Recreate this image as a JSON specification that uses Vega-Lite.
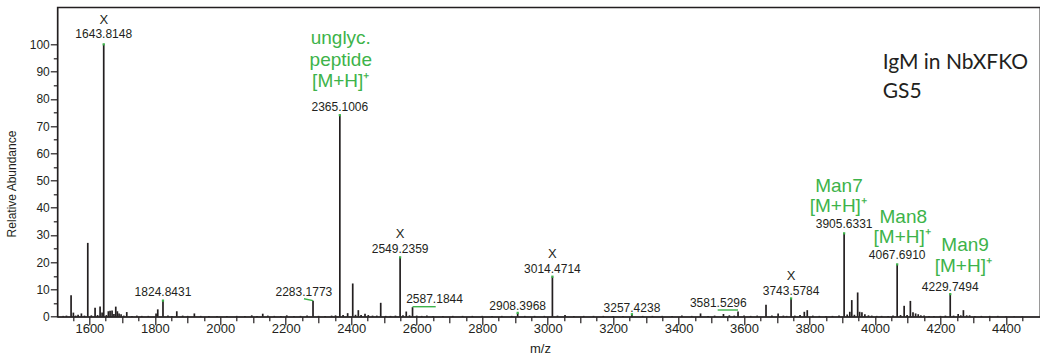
{
  "$schema": "https://vega.github.io/schema/vega-lite/v6.json",
  "width": 982.7,
  "height": 309.4,
  "autosize": {"type": "none"},
  "padding": {"left": 57.3, "top": 7.3, "right": 0, "bottom": 39.3},
  "background": "white",
  "view": {"stroke": "#231f20", "strokeWidth": 1.3},
  "config": {"axis": {"labelOverlap": false, "grid": false, "tickCount": 200}},
  "datasets": {
    "peaks": [
      {"mz":1520,"ab":0.3},{"mz":1530,"ab":0.4},{"mz":1544.1,"ab":7.9},{"mz":1551.1,"ab":1.5},{"mz":1558,"ab":0.4},{"mz":1565.5,"ab":0.7},{"mz":1575.6,"ab":1.2},{"mz":1585,"ab":0.4},{"mz":1595.1,"ab":27.1},{"mz":1606,"ab":0.5},{"mz":1617.4,"ab":3.3},{"mz":1625,"ab":0.6},{"mz":1632.7,"ab":3.7},{"mz":1638.8,"ab":1.5},{"mz":1643.8148,"ab":100},{"mz":1652,"ab":0.6},{"mz":1658,"ab":2.0},{"mz":1663.2,"ab":2.2},{"mz":1669.3,"ab":2.3},{"mz":1675,"ab":1.0},{"mz":1680.6,"ab":3.7},{"mz":1685.5,"ab":2.0},{"mz":1690.7,"ab":1.2},{"mz":1696.8,"ab":0.9},{"mz":1705,"ab":0.4},{"mz":1714.2,"ab":1.7},{"mz":1730,"ab":0.3},{"mz":1745,"ab":0.4},{"mz":1760,"ab":0.3},{"mz":1780,"ab":0.3},{"mz":1803.7,"ab":1.2},{"mz":1808.9,"ab":2.7},{"mz":1824.8431,"ab":5.9},{"mz":1840,"ab":0.4},{"mz":1852,"ab":0.3},{"mz":1867,"ab":2.0},{"mz":1885,"ab":0.4},{"mz":1900,"ab":0.3},{"mz":1920.7,"ab":1.2},{"mz":1940,"ab":0.3},{"mz":1965,"ab":0.3},{"mz":1990,"ab":0.3},{"mz":2020,"ab":0.3},{"mz":2050,"ab":0.3},{"mz":2075,"ab":0.3},{"mz":2096,"ab":0.5},{"mz":2112,"ab":0.3},{"mz":2129.6,"ab":1.1},{"mz":2145,"ab":0.4},{"mz":2165,"ab":0.3},{"mz":2185,"ab":0.3},{"mz":2203,"ab":0.5},{"mz":2225,"ab":0.3},{"mz":2245,"ab":0.3},{"mz":2265,"ab":0.4},{"mz":2283.1773,"ab":5.9},{"mz":2300,"ab":0.3},{"mz":2320,"ab":0.3},{"mz":2340,"ab":0.4},{"mz":2352,"ab":0.5},{"mz":2365.1006,"ab":74.0},{"mz":2375,"ab":0.6},{"mz":2389,"ab":1.3},{"mz":2404.5,"ab":12.2},{"mz":2413,"ab":0.7},{"mz":2421.6,"ab":2.4},{"mz":2430,"ab":0.6},{"mz":2442,"ab":1.1},{"mz":2452,"ab":0.6},{"mz":2465,"ab":0.4},{"mz":2478,"ab":0.4},{"mz":2490,"ab":5.1},{"mz":2505,"ab":0.3},{"mz":2520,"ab":0.3},{"mz":2535,"ab":0.4},{"mz":2549.2359,"ab":21.8},{"mz":2558,"ab":0.5},{"mz":2568,"ab":1.9},{"mz":2578,"ab":0.5},{"mz":2587.1844,"ab":3.5},{"mz":2600,"ab":0.4},{"mz":2615,"ab":0.3},{"mz":2631,"ab":0.4},{"mz":2650,"ab":0.3},{"mz":2680,"ab":0.3},{"mz":2710,"ab":0.3},{"mz":2740,"ab":0.3},{"mz":2770,"ab":0.3},{"mz":2800,"ab":0.3},{"mz":2830,"ab":0.3},{"mz":2860,"ab":0.3},{"mz":2890,"ab":0.3},{"mz":2908.3968,"ab":1.4},{"mz":2930,"ab":0.3},{"mz":2960,"ab":0.3},{"mz":2990,"ab":0.3},{"mz":3014.4714,"ab":14.7},{"mz":3030,"ab":0.4},{"mz":3053,"ab":0.6},{"mz":3080,"ab":0.3},{"mz":3110,"ab":0.3},{"mz":3140,"ab":0.3},{"mz":3170,"ab":0.3},{"mz":3200,"ab":0.3},{"mz":3230,"ab":0.3},{"mz":3257.4238,"ab":0.9},{"mz":3290,"ab":0.3},{"mz":3320,"ab":0.3},{"mz":3350,"ab":0.3},{"mz":3380,"ab":0.3},{"mz":3410,"ab":0.4},{"mz":3440,"ab":0.3},{"mz":3467,"ab":1.2},{"mz":3490,"ab":0.3},{"mz":3510,"ab":0.4},{"mz":3537,"ab":1.0},{"mz":3555,"ab":0.5},{"mz":3570,"ab":0.4},{"mz":3581.5296,"ab":1.9},{"mz":3600,"ab":0.4},{"mz":3620,"ab":0.3},{"mz":3640,"ab":0.4},{"mz":3667,"ab":4.4},{"mz":3685,"ab":0.4},{"mz":3704,"ab":1.2},{"mz":3720,"ab":0.4},{"mz":3730,"ab":0.3},{"mz":3743.5784,"ab":6.7},{"mz":3755,"ab":0.4},{"mz":3771,"ab":0.6},{"mz":3784,"ab":1.8},{"mz":3793,"ab":2.4},{"mz":3810,"ab":0.4},{"mz":3830,"ab":0.3},{"mz":3850,"ab":0.3},{"mz":3870,"ab":0.3},{"mz":3890,"ab":0.4},{"mz":3905.6331,"ab":30.6},{"mz":3915,"ab":0.8},{"mz":3923,"ab":1.8},{"mz":3929,"ab":6.1},{"mz":3937,"ab":0.7},{"mz":3947,"ab":8.9},{"mz":3953,"ab":1.8},{"mz":3960,"ab":1.6},{"mz":3969,"ab":0.9},{"mz":3980,"ab":0.5},{"mz":3990,"ab":0.4},{"mz":4005,"ab":0.3},{"mz":4020,"ab":0.3},{"mz":4040,"ab":0.3},{"mz":4055,"ab":0.4},{"mz":4067.691,"ab":19.2},{"mz":4078,"ab":0.6},{"mz":4089,"ab":4.0},{"mz":4098,"ab":0.6},{"mz":4108,"ab":5.8},{"mz":4116,"ab":1.6},{"mz":4124,"ab":1.2},{"mz":4132,"ab":0.9},{"mz":4140,"ab":0.5},{"mz":4150,"ab":0.4},{"mz":4165,"ab":0.3},{"mz":4180,"ab":0.3},{"mz":4200,"ab":0.3},{"mz":4215,"ab":0.4},{"mz":4229.7494,"ab":8.3},{"mz":4240,"ab":0.4},{"mz":4254,"ab":1.0},{"mz":4262,"ab":0.5},{"mz":4270,"ab":2.4},{"mz":4280,"ab":0.5},{"mz":4289,"ab":0.5},{"mz":4305,"ab":0.3},{"mz":4325,"ab":0.3},{"mz":4350,"ab":0.3},{"mz":4375,"ab":0.3},{"mz":4400,"ab":0.2},{"mz":4425,"ab":0.2},{"mz":4450,"ab":0.2}
    ],
    "tops": [
      {"mz":1643.8148,"ab":100},{"mz":2365.1006,"ab":74.0},{"mz":2549.2359,"ab":21.8},{"mz":3014.4714,"ab":14.7},{"mz":3743.5784,"ab":6.7},{"mz":3905.6331,"ab":30.6},{"mz":4067.691,"ab":19.2},{"mz":4229.7494,"ab":8.3},{"mz":1824.8431,"ab":5.9},{"mz":2908.3968,"ab":1.4},{"mz":3257.4238,"ab":0.9}
    ],
    "leaders": [
      {"mz":2255.6,"ab":6.6,"mz2":2283.1773,"ab2":5.9},
      {"mz":2587.1844,"ab":3.67,"mz2":2658,"ab2":3.67},
      {"mz":3519.3,"ab":2.46,"mz2":3581.5296,"ab2":2.46}
    ],
    "mzLabels": [
      {"text":"1643.8148","mz":1643.8148,"ab":102.2},
      {"text":"2365.1006","mz":2365.1006,"ab":75.6},
      {"text":"2549.2359","mz":2549.2359,"ab":23.3},
      {"text":"3014.4714","mz":3014.4714,"ab":15.9},
      {"text":"3743.5784","mz":3743.5784,"ab":7.8},
      {"text":"3905.6331","mz":3905.6331,"ab":32.45},
      {"text":"4067.6910","mz":4067.691,"ab":21.07},
      {"text":"4229.7494","mz":4229.7494,"ab":9.55},
      {"text":"1824.8431","mz":1824.8431,"ab":7.6},
      {"text":"2283.1773","mz":2255.2,"ab":7.6},
      {"text":"2587.1844","mz":2654.4,"ab":5.14},
      {"text":"2908.3968","mz":2908.3968,"ab":2.46},
      {"text":"3257.4238","mz":3257.4238,"ab":1.84},
      {"text":"3581.5296","mz":3521.2,"ab":3.67}
    ],
    "contaminants": [
      {"text":"X","mz":1643.8148,"ab":107.4},
      {"text":"X","mz":2549.2359,"ab":28.8},
      {"text":"X","mz":3014.4714,"ab":21.4},
      {"text":"X","mz":3743.5784,"ab":13.5}
    ],
    "assignments": [
      {"text":"unglyc.","mz":2368,"ab":100.0},
      {"text":"peptide","mz":2368,"ab":92.1},
      {"text":"[M+H]⁺","mz":2367.8,"ab":84.2},
      {"text":"Man7","mz":3889.9,"ab":45.9},
      {"text":"[M+H]⁺","mz":3887.8,"ab":38.3},
      {"text":"Man8","mz":4086.3,"ab":34.3},
      {"text":"[M+H]⁺","mz":4082.8,"ab":27.2},
      {"text":"Man9","mz":4275.3,"ab":24.2},
      {"text":"[M+H]⁺","mz":4269.8,"ab":16.5}
    ],
    "sample": [
      {"text":"IgM in NbXFKO","mz":4023.3,"ab":90.8},
      {"text":"GS5","mz":4023.3,"ab":80.2}
    ],
    "anchor": [{"mz": 3000, "ab": 50}]
  },
  "resolve": {"scale": {"x": "independent", "y": "independent"}},
  "layer": [
    {
      "layer": [
        {
          "data": {"name": "peaks"},
          "mark": {"type": "rule", "color": "#231f20", "strokeWidth": 1.7},
          "encoding": {
            "x": {
              "field": "mz", "type": "quantitative", "title": "m/z",
              "scale": {"domain": [1502, 4504], "nice": false, "zero": false},
              "axis": {
                "orient": "bottom",
                "values": [1600,1800,2000,2200,2400,2600,2800,3000,3200,3400,3600,3800,4000,4200,4400],
                "tickCount": 200,
                "format": "d",
                "labelOverlap": false,
                "labelFlush": false,
                "labelFont": "Liberation Sans Narrow, Liberation Sans, sans-serif",
                "labelFontSize": 13,
                "labelColor": "#231f20",
                "labelPadding": -2,
                "tickSize": 8,
                "tickColor": "#231f20",
                "tickWidth": 1.2,
                "domainColor": "#231f20",
                "domainWidth": 1.3,
                "titleFont": "Liberation Sans, sans-serif",
                "titleFontSize": 13,
                "titleFontWeight": "normal",
                "titleColor": "#231f20",
                "titleX": 482.7,
                "titleY": 36.3,
                "titleBaseline": "alphabetic",
                "titleAlign": "center"
              }
            },
            "y": {
              "field": "ab", "type": "quantitative", "title": "Relative Abundance",
              "scale": {"domain": [0, 113.6], "nice": false},
              "axis": {
                "orient": "left",
                "values": [0,10,20,30,40,50,60,70,80,90,100],
                "tickCount": 200,
                "format": "d",
                "labelOverlap": false,
                "labelFont": "Liberation Sans, sans-serif",
                "labelFontSize": 12,
                "labelColor": "#231f20",
                "labelPadding": 1,
                "tickSize": 7,
                "tickColor": "#231f20",
                "tickWidth": 1.2,
                "domainColor": "#231f20",
                "domainWidth": 1.3,
                "titleFont": "Liberation Sans, sans-serif",
                "titleFontSize": 12,
                "titleFontWeight": "normal",
                "titleColor": "#231f20",
                "titleAngle": -90,
                "titleX": -42.3,
                "titleY": 176.2,
                "titleBaseline": "alphabetic",
                "titleAlign": "center"
              }
            },
            "y2": {"datum": 0}
          }
        },
        {
          "data": {"name": "leaders"},
          "mark": {"type": "rule", "color": "#3db34a", "strokeWidth": 1.4},
          "encoding": {
            "x": {"field": "mz", "type": "quantitative", "title": "m/z"},
            "x2": {"field": "mz2"},
            "y": {"field": "ab", "type": "quantitative", "title": "Relative Abundance"},
            "y2": {"field": "ab2"}
          }
        },
        {
          "data": {"name": "tops"},
          "mark": {"type": "square", "color": "#3db34a", "size": 5, "opacity": 1},
          "encoding": {
            "x": {"field": "mz", "type": "quantitative", "title": "m/z"},
            "y": {"field": "ab", "type": "quantitative", "title": "Relative Abundance"}
          }
        },
        {
          "data": {"name": "mzLabels"},
          "mark": {"type": "text", "font": "Liberation Sans, sans-serif", "fontSize": 12, "color": "#231f20", "align": "center", "baseline": "alphabetic"},
          "encoding": {
            "x": {"field": "mz", "type": "quantitative", "title": "m/z"},
            "y": {"field": "ab", "type": "quantitative", "title": "Relative Abundance"},
            "text": {"field": "text"}
          }
        },
        {
          "data": {"name": "contaminants"},
          "mark": {"type": "text", "font": "Liberation Sans, sans-serif", "fontSize": 13, "color": "#231f20", "align": "center", "baseline": "alphabetic"},
          "encoding": {
            "x": {"field": "mz", "type": "quantitative", "title": "m/z"},
            "y": {"field": "ab", "type": "quantitative", "title": "Relative Abundance"},
            "text": {"field": "text"}
          }
        },
        {
          "data": {"name": "assignments"},
          "mark": {"type": "text", "font": "Liberation Sans, sans-serif", "fontSize": 19, "color": "#3db34a", "align": "center", "baseline": "alphabetic"},
          "encoding": {
            "x": {"field": "mz", "type": "quantitative", "title": "m/z"},
            "y": {"field": "ab", "type": "quantitative", "title": "Relative Abundance"},
            "text": {"field": "text"}
          }
        },
        {
          "data": {"name": "sample"},
          "mark": {"type": "text", "font": "Lato, sans-serif", "fontSize": 21, "color": "#231f20", "align": "left", "baseline": "alphabetic"},
          "encoding": {
            "x": {"field": "mz", "type": "quantitative", "title": "m/z"},
            "y": {"field": "ab", "type": "quantitative", "title": "Relative Abundance"},
            "text": {"field": "text"}
          }
        }
      ]
    },
    {
      "data": {"name": "anchor"},
      "mark": {"type": "rule", "opacity": 0},
      "encoding": {
        "x": {
          "field": "mz", "type": "quantitative",
          "scale": {"domain": [1502, 4504], "nice": false, "zero": false},
          "axis": {"orient": "bottom", "title": null, "labels": false, "domain": false, "tickCount": 200,
                   "values": [1700,1900,2100,2300,2500,2700,2900,3100,3300,3500,3700,3900,4100,4300],
                   "tickSize": 6, "tickColor": "#231f20", "tickWidth": 1.2}
        }
      }
    },
    {
      "data": {"name": "anchor"},
      "mark": {"type": "rule", "opacity": 0},
      "encoding": {
        "x": {
          "field": "mz", "type": "quantitative",
          "scale": {"domain": [1502, 4504], "nice": false, "zero": false},
          "axis": {"orient": "bottom", "title": null, "labels": false, "domain": false, "tickCount": 200,
                   "values": [1550,1650,1750,1850,1950,2050,2150,2250,2350,2450,2550,2650,2750,2850,2950,3050,3150,3250,3350,3450,3550,3650,3750,3850,3950,4050,4150,4250,4350,4450],
                   "tickSize": 4, "tickColor": "#231f20", "tickWidth": 1.2}
        }
      }
    },
    {
      "data": {"name": "anchor"},
      "mark": {"type": "rule", "opacity": 0},
      "encoding": {
        "y": {
          "field": "ab", "type": "quantitative",
          "scale": {"domain": [0, 113.6], "nice": false},
          "axis": {"orient": "left", "title": null, "labels": false, "domain": false, "tickCount": 200,
                   "values": [5,15,25,35,45,55,65,75,85,95],
                   "tickSize": 4, "tickColor": "#231f20", "tickWidth": 1.2}
        }
      }
    }
  ]
}
